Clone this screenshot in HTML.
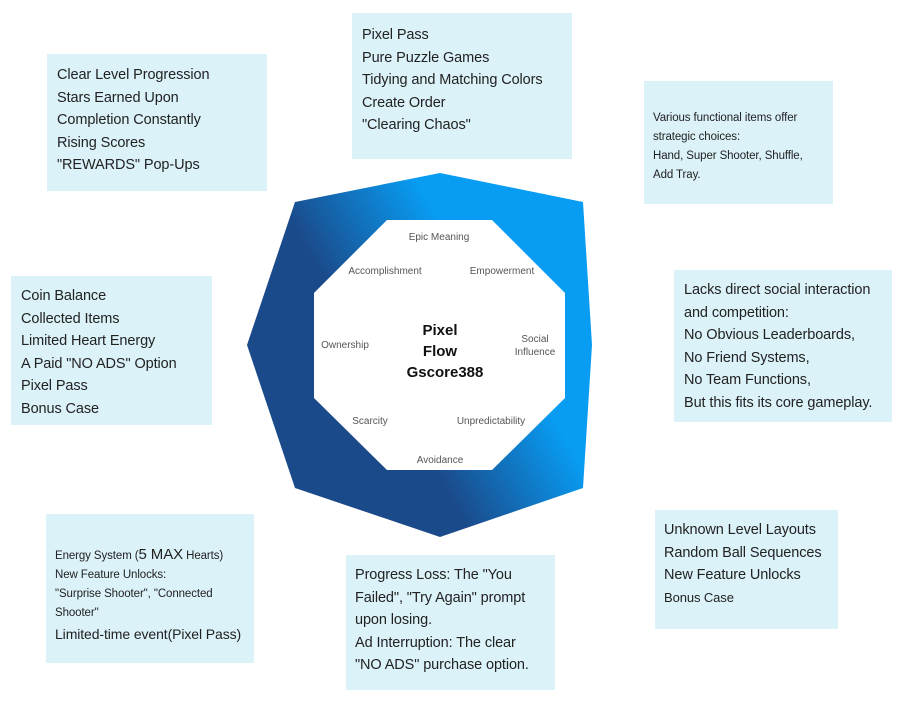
<!DOCTYPE html>
<html><head><meta charset="utf-8"><style>
body{margin:0;width:906px;height:704px;background:#fff;position:relative;overflow:hidden;font-family:"Liberation Sans",sans-serif;color:#222}
.b{position:absolute;background:#dbf2f9;box-sizing:border-box;font-size:14.5px;line-height:22.5px;white-space:nowrap;letter-spacing:-0.1px}
.s{font-size:11.5px;line-height:19px}
svg{position:absolute;left:0;top:0}
</style></head><body>
<svg width="906" height="704">
<defs><linearGradient id="g" x1="1" y1="0.25" x2="0.1" y2="0.8">
<stop offset="0.3" stop-color="#089cf2"/><stop offset="0.65" stop-color="#1b4a8a"/></linearGradient></defs>
<polygon points="440,173 583,202 592,345 583,488 440,537 295,488 247,345 295,202" fill="url(#g)"/>
<polygon points="387,220 492,220 565,293 565,398 492,470 387,470 314,398 314,293" fill="#fff"/>
<g font-family="Liberation Sans,sans-serif" font-size="10" fill="#555" text-anchor="middle">
<text x="439" y="240">Epic Meaning</text>
<text x="385" y="274">Accomplishment</text>
<text x="502" y="274">Empowerment</text>
<text x="345" y="348">Ownership</text>
<text x="535" y="342">Social</text><text x="535" y="355">Influence</text>
<text x="370" y="424">Scarcity</text>
<text x="491" y="424">Unpredictability</text>
<text x="440" y="463">Avoidance</text>
</g>
<g font-family="Liberation Sans,sans-serif" font-size="15" font-weight="bold" fill="#111" text-anchor="middle">
<text x="440" y="335">Pixel</text><text x="440" y="356">Flow</text><text x="445" y="377">Gscore388</text>
</g>
</svg>
<div class="b" style="left:47px;top:54px;width:220px;height:137px;padding:10px 10px">Clear Level Progression<br>Stars Earned Upon<br>Completion Constantly<br>Rising Scores<br>"REWARDS" Pop-Ups</div>
<div class="b" style="left:352px;top:13px;width:220px;height:146px;padding:11px 10px">Pixel Pass<br>Pure Puzzle Games<br>Tidying and Matching Colors<br>Create Order<br>"Clearing Chaos"</div>
<div class="b s" style="left:644px;top:81px;width:189px;height:123px;padding:28px 9px">Various functional items offer<br>strategic choices:<br>Hand, Super Shooter, Shuffle,<br>Add Tray.</div>
<div class="b" style="left:11px;top:276px;width:201px;height:149px;padding:9px 10px">Coin Balance<br>Collected Items<br>Limited Heart Energy<br>A Paid "NO ADS" Option<br>Pixel Pass<br>Bonus Case</div>
<div class="b" style="left:674px;top:270px;width:218px;height:152px;padding:9px 10px">Lacks direct social interaction<br>and competition:<br>No Obvious Leaderboards,<br>No Friend Systems,<br>No Team Functions,<br>But this fits its core gameplay.</div>
<div class="b s" style="left:46px;top:514px;width:208px;height:149px;padding:31px 9px">Energy System (<span style="font-size:15px">5 MAX</span> Hearts)<br>New Feature Unlocks:<br>"Surprise Shooter", "Connected<br>Shooter"<br><span style="font-size:14px;line-height:22px">Limited-time event(Pixel Pass)</span></div>
<div class="b" style="left:346px;top:555px;width:209px;height:135px;padding:9px 9px">Progress Loss: The "You<br>Failed", "Try Again" prompt<br>upon losing.<br>Ad Interruption: The clear<br>"NO ADS" purchase option.</div>
<div class="b" style="left:655px;top:510px;width:183px;height:119px;padding:9px 9px">Unknown Level Layouts<br>Random Ball Sequences<br>New Feature Unlocks<br><span style="font-size:13px">Bonus Case</span></div>
</body></html>
